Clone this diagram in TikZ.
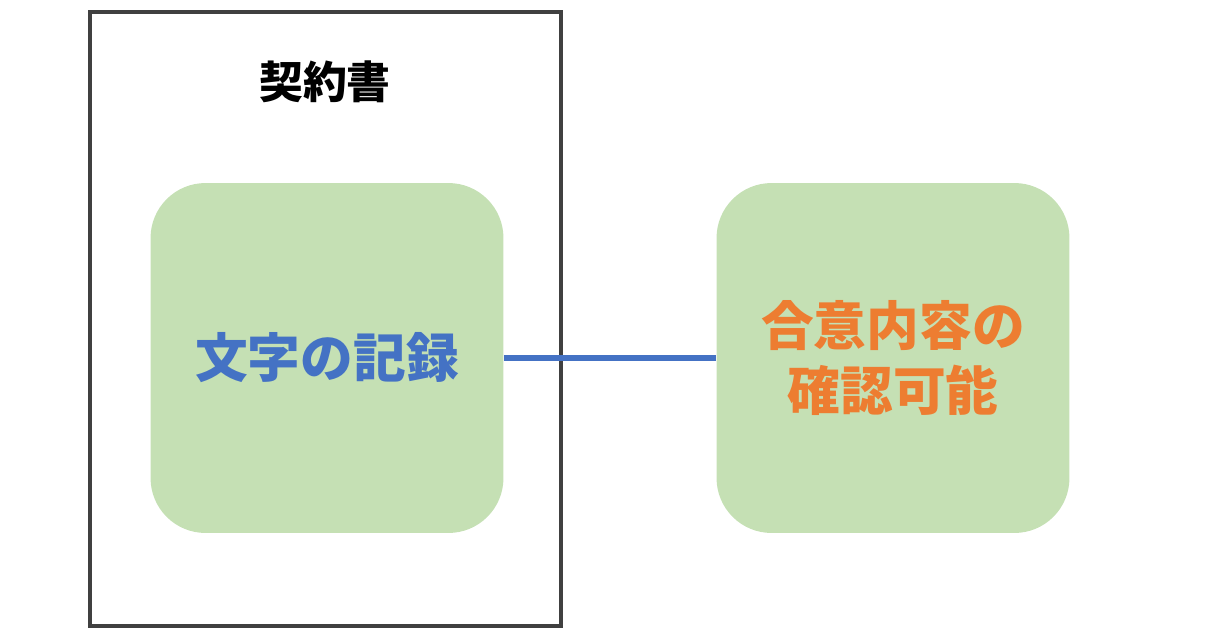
\documentclass[tikz,border=0pt]{standalone}
\usepackage{fontspec}
\setmainfont{Noto Sans CJK JP}
\usetikzlibrary{positioning}
\definecolor{boxgreen}{HTML}{C5E0B4}
\definecolor{lineblue}{HTML}{4472C4}
\definecolor{textorange}{HTML}{ED7D31}
\definecolor{framegray}{HTML}{404040}
\begin{document}
\begin{tikzpicture}[x=0.02cm, y=-0.02cm,
panel/.style = { fill = boxgreen, rounded corners = 1.1cm, minimum width = 7.06cm, minimum height = 7cm, inner sep = 0pt },
link/.style = { draw = lineblue, line width = 3.4pt }]
\useasboundingbox (0,0) rectangle (1225,633);
\draw[framegray, line width = 2.8pt] (90,12) rectangle (561,626);
\node[font = \fontsize{25}{30}\selectfont\bfseries] (title) at (325,82) {契約書};
\node[panel, text = lineblue, font = \fontsize{30}{36}\selectfont\bfseries] (record) at (327,358) {文字の記録};
\node[panel, text = textorange, align = center, font = \fontsize{30}{37}\selectfont\bfseries] (confirm) at (893,358) {合意内容の\\確認可能};
\path[link] (record) -- (confirm);
\end{tikzpicture}
\end{document}
